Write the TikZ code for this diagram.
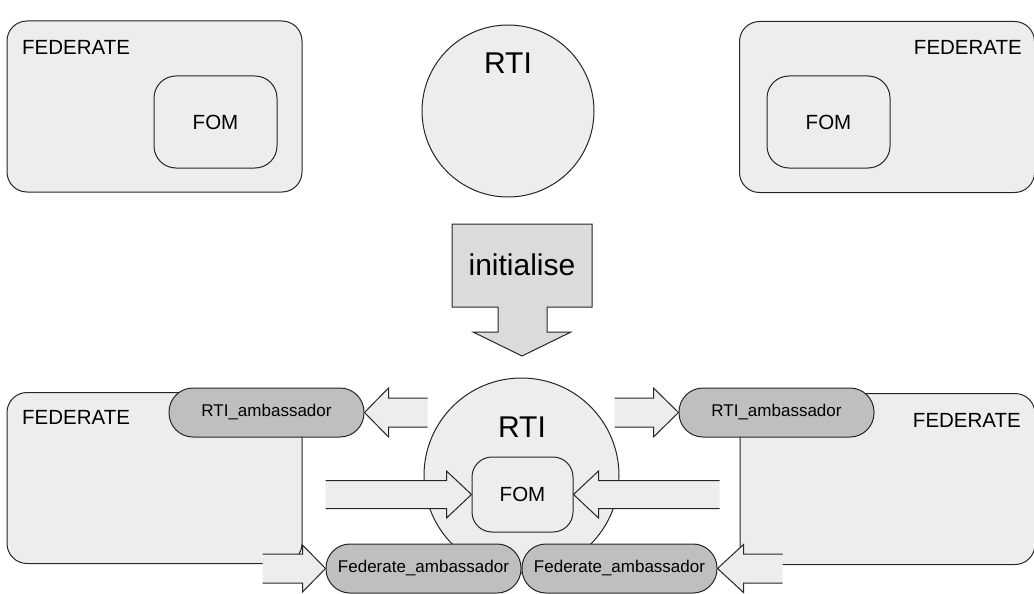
\documentclass[tikz,border=0pt]{standalone}
\usepackage{fontspec}
\setmainfont{Liberation Sans}
\begin{document}
\begin{tikzpicture}[x=1pt,y=-1pt,
  outline/.style={draw=black!85,line width=1pt},
  fedbox/.style={outline,fill=black!7,rounded corners=20pt,minimum width=295pt,minimum height=171pt,inner sep=0pt},
  fombox/.style={outline,fill=black!7,rounded corners=22pt,inner sep=0pt,font=\fontsize{20.5}{24}\selectfont},
  pill/.style={outline,fill=black!25,rounded corners=24pt,minimum width=195pt,minimum height=49pt,inner sep=0pt,font=\fontsize{17}{20}\selectfont},
  rtiball/.style={outline,fill=black!7,circle,inner sep=0pt},
  bigtext/.style={inner sep=0pt,font=\fontsize{30}{34}\selectfont},
  fedtext/.style={inner sep=0pt,font=\fontsize{20.5}{24}\selectfont},
  arrowfill/.style={fill=black!7},
  initfill/.style={fill=black!14}]
\useasboundingbox (0,0) rectangle (1034,594);

% block arrow with an open tail: tip, direction (1 = right, -1 = left),
% shaft length, head length, head half height, shaft half height
\newcommand{\openarrow}[6]{%
  \begin{scope}[shift={(#1)},xscale=#2]
    \fill[arrowfill] (0,0) -- (-#4,-#5) -- (-#4,-#6) -- ({-#4-#3},-#6)
      -- ({-#4-#3},#6) -- (-#4,#6) -- (-#4,#5) -- cycle;
    \draw[outline] ({-#4-#3},-#6) -- (-#4,-#6) -- (-#4,-#5) -- (0,0)
      -- (-#4,#5) -- (-#4,#6) -- ({-#4-#3},#6);
  \end{scope}}

% ---------- before initialisation ----------
\node[fedbox] (fedA) at (154.5,106.5) {};
\node[fedtext,anchor=west] (fedAlabel) at (22,47) {FEDERATE};
\node[fombox,minimum width=123pt,minimum height=92pt] (fomA) at (215.5,122) {FOM};

\node[rtiball,minimum size=172pt] (rtiA) at (508,111) {};
\node[bigtext] (rtiAlabel) at (508,63) {RTI};

\node[fedbox] (fedB) at (887,107) {};
\node[fedtext,anchor=east] (fedBlabel) at (1022,47) {FEDERATE};
\node[fombox,minimum width=123pt,minimum height=92pt] (fomB) at (828.5,122) {FOM};

% ---------- initialise arrow ----------
\coordinate (initTip) at (522,356);
\filldraw[initfill,outline] (452,224) -- (592,224) -- (592,307) -- (547,307) -- (547,332)
  -- (571,332) -- (initTip) -- (473,332) -- (498,332) -- (498,307) -- (452,307) -- cycle;
\node[bigtext] (initlabel) at (522,265) {initialise};

% ---------- after initialisation ----------
\node[fedbox] (fedC) at (154.5,478) {};
\node[fedtext,anchor=west] (fedClabel) at (22,417) {FEDERATE};

\node[fedbox] (fedD) at (887.5,479) {};
\node[fedtext,anchor=east] (fedDlabel) at (1021,420) {FEDERATE};

\node[rtiball,minimum size=195pt] (rtiB) at (521.5,475.5) {};
\node[bigtext] (rtiBlabel) at (522,427) {RTI};

\node[fombox,minimum width=101pt,minimum height=75pt,rounded corners=20pt] (fomC) at (522.5,494.5) {FOM};

\node[pill] (rambL) at (266.5,412.5) {RTI\_ambassador};
\node[pill] (rambR) at (776.5,412.5) {RTI\_ambassador};
\node[pill] (fambL) at (423.5,568.5) {Federate\_ambassador};
\node[pill] (fambR) at (619.5,568.5) {Federate\_ambassador};

% arrows between the RTI and the ambassadors
\openarrow{rambL.east}{-1}{39}{24}{24.5}{14.5}
\openarrow{rambR.west}{1}{39}{25}{24.5}{14.5}
\openarrow{fomC.west}{1}{121}{25}{23.5}{14}
\openarrow{fomC.east}{-1}{121}{25}{23.5}{14}
\openarrow{fambL.west}{1}{40}{23}{23.5}{14.5}
\openarrow{fambR.east}{-1}{39}{26}{24}{14.5}
\end{tikzpicture}
\end{document}
